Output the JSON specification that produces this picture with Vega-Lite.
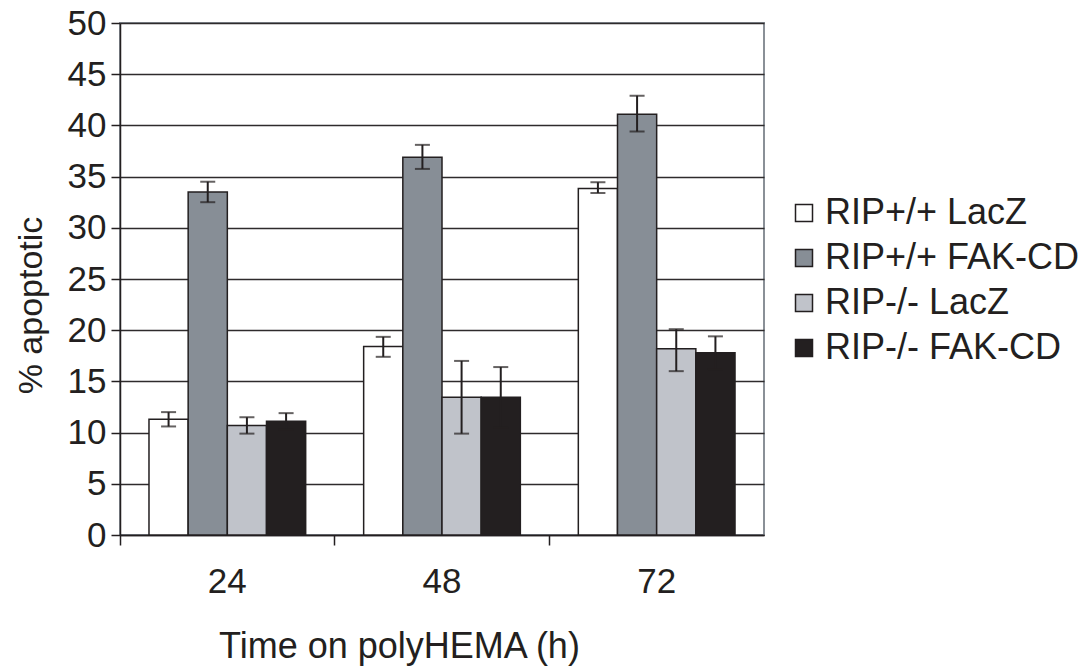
{
  "$schema": "https://vega.github.io/schema/vega-lite/v6.json",
  "width": 644,
  "height": 512,
  "autosize": "none",
  "padding": {"left": 120, "top": 23, "right": 323, "bottom": 134},
  "background": "white",
  "config": {
    "font": "Liberation Sans",
    "view": {"stroke": "#8a9097", "strokeWidth": 2},
    "axis": {"labelFont": "Liberation Sans", "titleFont": "Liberation Sans", "labelColor": "#231f20", "titleColor": "#231f20", "labelFontSize": 35, "titleFontSize": 36, "titleFontWeight": "normal", "domainColor": "#231f20", "tickColor": "#231f20", "domainWidth": 1.5, "tickWidth": 1.5}
  },
  "data": {
    "values": [
      {"time": "24", "group": "RIP+/+ LacZ", "value": 11.3, "lo": 10.6, "hi": 12.0},
      {"time": "24", "group": "RIP+/+ FAK-CD", "value": 33.5, "lo": 32.5, "hi": 34.5},
      {"time": "24", "group": "RIP-/- LacZ", "value": 10.7, "lo": 9.9, "hi": 11.5},
      {"time": "24", "group": "RIP-/- FAK-CD", "value": 11.1, "lo": 10.3, "hi": 11.9},
      {"time": "48", "group": "RIP+/+ LacZ", "value": 18.4, "lo": 17.4, "hi": 19.35},
      {"time": "48", "group": "RIP+/+ FAK-CD", "value": 36.9, "lo": 35.75, "hi": 38.1},
      {"time": "48", "group": "RIP-/- LacZ", "value": 13.45, "lo": 9.9, "hi": 17.0},
      {"time": "48", "group": "RIP-/- FAK-CD", "value": 13.45, "lo": 10.5, "hi": 16.4},
      {"time": "72", "group": "RIP+/+ LacZ", "value": 33.85, "lo": 33.4, "hi": 34.45},
      {"time": "72", "group": "RIP+/+ FAK-CD", "value": 41.1, "lo": 39.4, "hi": 42.9},
      {"time": "72", "group": "RIP-/- LacZ", "value": 18.2, "lo": 16.0, "hi": 20.1},
      {"time": "72", "group": "RIP-/- FAK-CD", "value": 17.8, "lo": 16.2, "hi": 19.4}
    ]
  },
  "encoding": {
    "x": {
      "field": "time", "type": "nominal", "sort": ["24", "48", "72"],
      "scale": {"paddingInner": 0, "paddingOuter": 0},
      "axis": {"title": "Time on polyHEMA (h)", "labelAngle": 0, "bandPosition": 0, "tickSize": 10, "labelPadding": 19, "titleX": 279, "titleY": 122, "titleBaseline": "alphabetic", "titleAnchor": "middle", "titleAlign": "center"}
    },
    "xOffset": {
      "field": "group", "type": "nominal",
      "sort": ["RIP+/+ LacZ", "RIP+/+ FAK-CD", "RIP-/- LacZ", "RIP-/- FAK-CD"],
      "scale": {"paddingInner": 0, "paddingOuter": 0.74}
    }
  },
  "layer": [
    {
      "mark": {"type": "bar", "stroke": "#231f20", "strokeWidth": 1.5},
      "encoding": {
        "y": {
          "field": "value", "type": "quantitative", "title": "% apoptotic",
          "scale": {"domain": [0, 50], "nice": false},
          "axis": {"values": [0, 5, 10, 15, 20, 25, 30, 35, 40, 45, 50], "tickSize": 9, "labelPadding": 5, "titlePadding": 19, "titleFontSize": 34, "titleY": 282, "grid": true, "gridColor": "#2e2b2c", "gridWidth": 1.3}
        },
        "color": {
          "field": "group", "type": "nominal",
          "scale": {"domain": ["RIP+/+ LacZ", "RIP+/+ FAK-CD", "RIP-/- LacZ", "RIP-/- FAK-CD"], "range": ["#ffffff", "#878e96", "#c0c3ca", "#231f20"]},
          "legend": {"title": null, "orient": "none", "legendX": 666, "legendY": 172, "padding": 0, "symbolType": "square", "symbolSize": 289, "symbolStrokeColor": "#231f20", "symbolStrokeWidth": 1.5, "labelFontSize": 36, "labelColor": "#231f20", "labelLimit": 400, "labelOffset": 3, "rowPadding": 9}
        }
      }
    },
    {
      "mark": {"type": "rule", "color": "#231f20", "strokeWidth": 2},
      "encoding": {
        "y": {"field": "lo", "type": "quantitative", "title": "% apoptotic"},
        "y2": {"field": "hi"}
      }
    },
    {
      "mark": {"type": "tick", "color": "#231f20", "thickness": 2, "size": 15},
      "encoding": {"y": {"field": "lo", "type": "quantitative", "title": "% apoptotic"}}
    },
    {
      "mark": {"type": "tick", "color": "#231f20", "thickness": 2, "size": 15},
      "encoding": {"y": {"field": "hi", "type": "quantitative", "title": "% apoptotic"}}
    }
  ]
}
